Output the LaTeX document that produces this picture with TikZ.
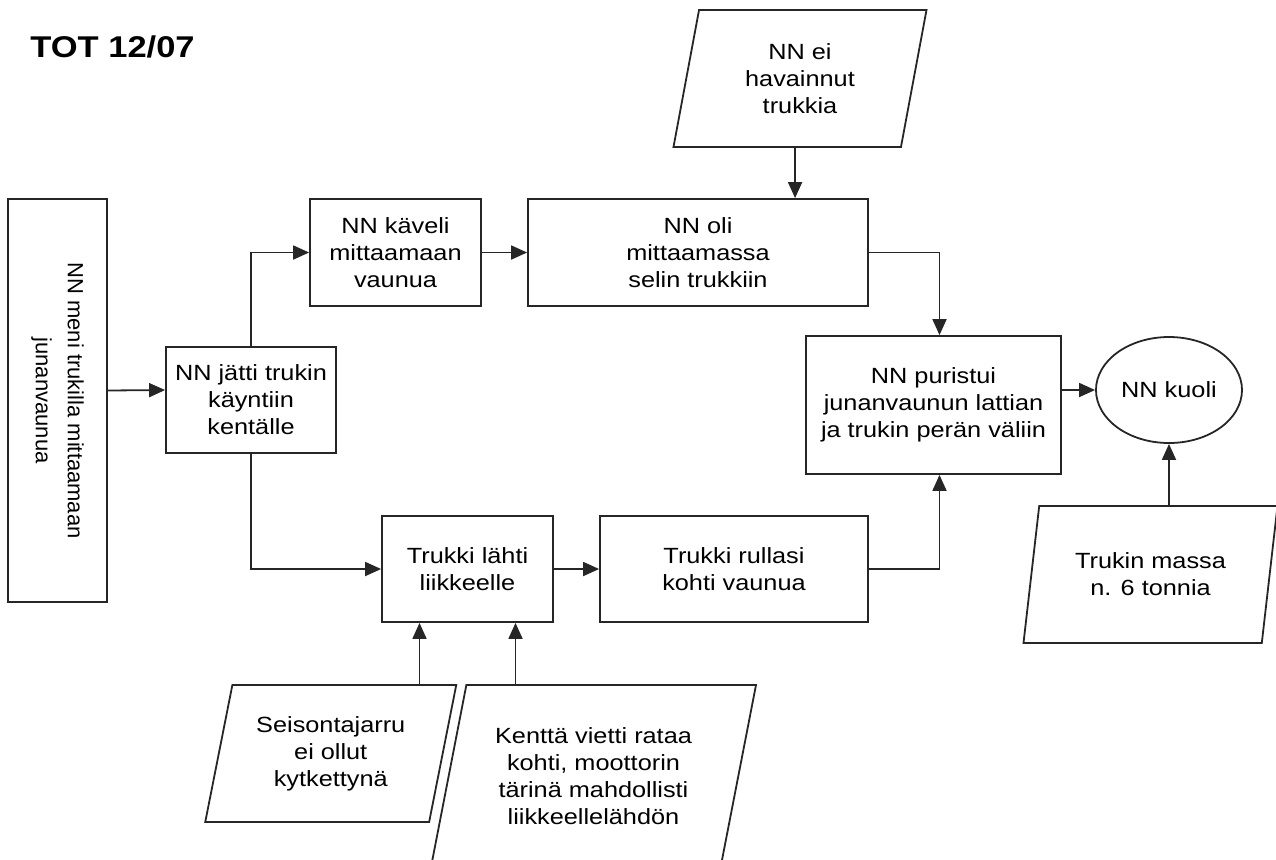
\documentclass[tikz,border=0pt]{standalone}
\usepackage{fontspec}
\setmainfont[FakeStretch=1.15]{Liberation Sans}
\newfontfamily\rotfont{Liberation Sans}
\usetikzlibrary{shapes.geometric,arrows.meta}
\tikzset{
  box/.style={draw=black!85,line width=0.9pt,rectangle,inner sep=0pt,align=center,
    font=\fontsize{11pt}{13.5pt}\selectfont},
  data/.style={box,trapezium,trapezium left angle=70,trapezium right angle=110,
    trapezium stretches body},
  arr/.style={draw=black!85,line width=0.9pt,-{Triangle[length=8pt,width=7pt]}}
}
\begin{document}
\begin{tikzpicture}[x=0.5pt,y=-0.5pt]
\clip (0,0) rectangle (1276,859);
\node[anchor=base west,inner sep=0pt,font=\bfseries\fontsize{15pt}{18pt}\selectfont] (title) at (30,57) {TOT 12/07};
\node[box,rotate=-90,minimum width=201.5pt,minimum height=49.5pt,
  font=\rotfont\fontsize{11pt}{16pt}\selectfont] (meni) at (57.5,400.5) {NN meni trukilla mittaamaan\\junanvaunua};
\node[box,minimum width=85pt,minimum height=53pt] (jatti) at (251,400) {NN jätti trukin\\käyntiin\\kentälle};
\node[box,minimum width=85.5pt,minimum height=53.5pt] (kaveli) at (395.5,252.5) {NN käveli\\mittaamaan\\vaunua};
\node[box,minimum width=170pt,minimum height=53.5pt] (oli) at (698,252.5) {NN oli\\mittaamassa\\selin trukkiin};
\node[data,minimum width=126.5pt,minimum height=68.5pt] (eih) at (800,78.5) {NN ei\\havainnut\\trukkia};
\node[box,minimum width=127.5pt,minimum height=69pt] (puristui) at (933.5,405) {NN puristui\\junanvaunun lattian\\ja trukin perän väliin};
\node[box,ellipse,minimum width=73pt,minimum height=53pt] (kuoli) at (1169,390) {NN kuoli};
\node[data,minimum width=127pt,minimum height=68.5pt] (massa) at (1150.5,574.5) {Trukin massa\\n. 6 tonnia};
\node[box,minimum width=85.5pt,minimum height=53pt] (lahti) at (467.5,569) {Trukki lähti\\liikkeelle};
\node[box,minimum width=134pt,minimum height=53pt] (rullasi) at (734,569) {Trukki rullasi\\kohti vaunua};
\node[data,minimum width=125.5pt,minimum height=68.5pt] (seis) at (330.75,753.5) {Seisontajarru\\ei ollut\\kytkettynä};
\node[data,minimum width=162.5pt,minimum height=91pt] (kentta) at (593.5,776) {Kenttä vietti rataa\\kohti, moottorin\\tärinä mahdollisti\\liikkeellelähdön};
\coordinate (eih-out) at ([xshift=4pt]eih.bottom side);
\coordinate (pur-top) at ([xshift=3pt]puristui.north);
\coordinate (pur-bot) at ([xshift=3pt]puristui.south);
\coordinate (lahti-a) at ([xshift=-24pt]lahti.south);
\coordinate (lahti-b) at ([xshift=24pt]lahti.south);
\draw[arr] ([yshift=5pt]meni.north) -- ([yshift=5pt]jatti.west);
\draw[arr] (jatti.north) |- (kaveli.west);
\draw[arr] (jatti.south) |- (lahti.west);
\draw[arr] (kaveli.east) -- (oli.west);
\draw[arr] (eih-out) -- (eih-out |- oli.north);
\draw[arr] (oli.east) -| (pur-top);
\draw[arr] (lahti.east) -- (rullasi.west);
\draw[arr] (rullasi.east) -| (pur-bot);
\draw[arr] (puristui.east |- kuoli.west) -- (kuoli.west);
\draw[arr] (massa.north -| kuoli.south) -- (kuoli.south);
\draw[arr] (seis.north -| lahti-a) -- (lahti-a);
\draw[arr] (kentta.north -| lahti-b) -- (lahti-b);
\end{tikzpicture}
\end{document}
